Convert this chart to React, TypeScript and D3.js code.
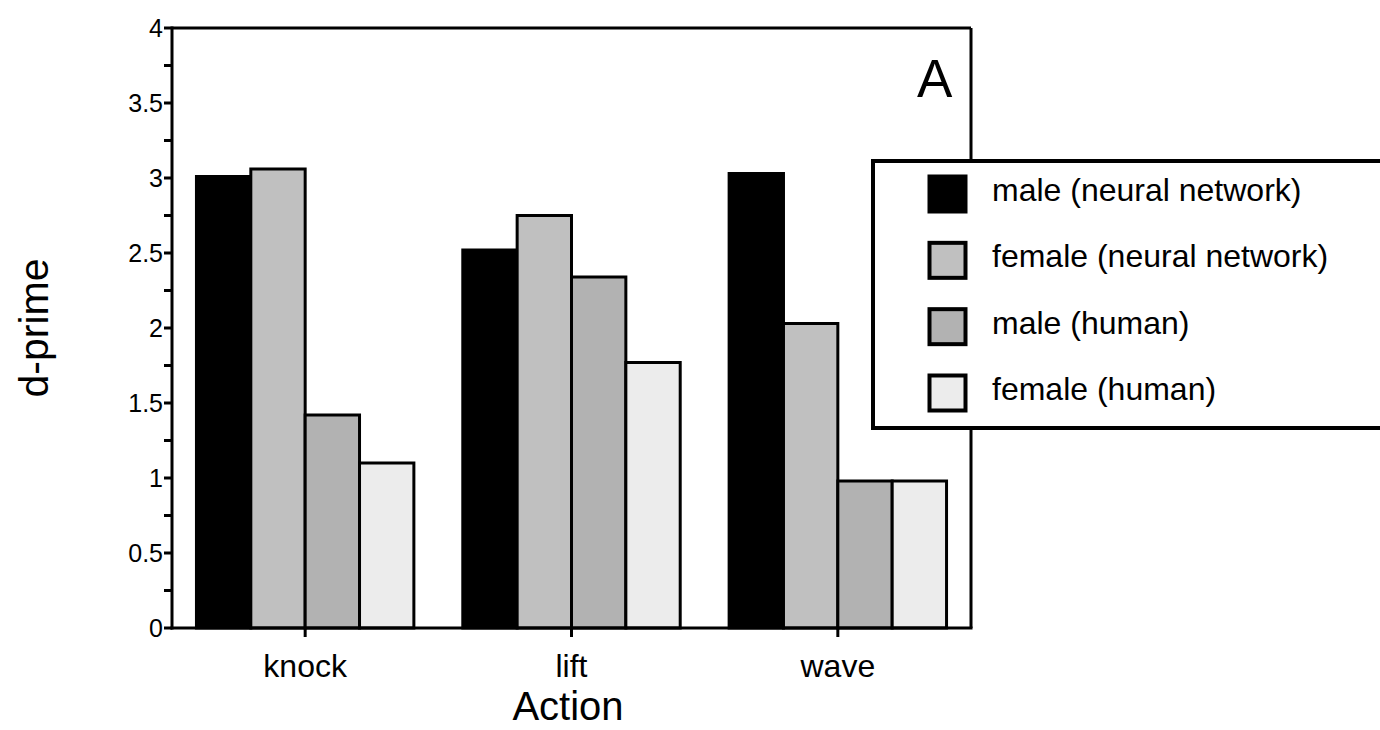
import React from "react";
import * as d3 from "d3";

const categories = ["knock", "lift", "wave"];
const seriesNames = [
  "male (neural network)",
  "female (neural network)",
  "male (human)",
  "female (human)",
];
const seriesColors = ["#000000", "#c0c0c0", "#b2b2b2", "#ececec"];
const maleNN = [3.01, 2.52, 3.03];
const femaleNN = [3.06, 2.75, 2.03];
const maleHuman = [1.42, 2.34, 0.98];
const femaleHuman = [1.1, 1.77, 0.98];
const yTickValues = [0, 0.5, 1, 1.5, 2, 2.5, 3, 3.5, 4];
const yTickLabels = ["0", "0.5", "1", "1.5", "2", "2.5", "3", "3.5", "4"];
const yMinorTicks = d3.range(0, 4.001, 0.25);

const seriesValues = [maleNN, femaleNN, maleHuman, femaleHuman];

export default function App() {
  const W = 1380;
  const H = 730;
  const left = 172;
  const right = 971;
  const top = 28;
  const bottom = 628;
  const font = "'Liberation Sans', Arial, sans-serif";

  const y = d3.scaleLinear().domain([0, 4]).range([bottom, top]);
  const x0 = d3.scaleBand<string>().domain(categories).range([left, right]).padding(0);
  const x1 = d3
    .scaleBand<number>()
    .domain(d3.range(seriesNames.length))
    .range([0, x0.bandwidth()])
    .paddingInner(0)
    .paddingOuter(0.45);

  const legendX = 873;
  const legendTop = 161;
  const legendBottom = 428;
  const legendRowY = d3
    .scalePoint<number>()
    .domain(d3.range(seriesNames.length))
    .range([194, 393]);

  return (
    <svg
      width={W}
      height={H}
      style={{ position: "absolute", left: 0, top: 0, background: "#fff" }}
      fontFamily={font}
    >
      <rect x={0} y={0} width={W} height={H} fill="#fff" />
      {/* bars */}
      {categories.map((c, ci) => (
        <g key={c} transform={`translate(${x0(c)},0)`}>
          {seriesValues.map((vals, si) => (
            <rect
              key={si}
              x={x1(si)!}
              y={y(vals[ci])}
              width={x1.bandwidth()}
              height={bottom - y(vals[ci])}
              fill={seriesColors[si]}
              stroke="#000"
              strokeWidth={3}
            />
          ))}
        </g>
      ))}
      {/* frame */}
      <line x1={left} x2={right} y1={top} y2={top} stroke="#000" strokeWidth={3} />
      <line x1={right} x2={right} y1={top} y2={bottom} stroke="#000" strokeWidth={3} />
      <line x1={left} x2={left} y1={top - 1.5} y2={bottom + 1.5} stroke="#000" strokeWidth={3} />
      <line x1={left - 1.5} x2={right + 1.5} y1={bottom} y2={bottom} stroke="#000" strokeWidth={3} />
      {/* y ticks */}
      {yMinorTicks.map((t) => (
        <line key={t} x1={left - 8} x2={left} y1={y(t)} y2={y(t)} stroke="#000" strokeWidth={3} />
      ))}
      {yTickValues.map((t, i) => (
        <text
          key={t}
          x={left - 9}
          y={y(t) + 9}
          textAnchor="end"
          fontSize={25}
          fill="#000"
        >
          {yTickLabels[i]}
        </text>
      ))}
      {/* x ticks */}
      {categories.map((c) => {
        const cx = x0(c)! + x0.bandwidth() / 2;
        return (
          <g key={c}>
            <line x1={cx} x2={cx} y1={bottom} y2={bottom + 9} stroke="#000" strokeWidth={3} />
            <text x={cx} y={677} textAnchor="middle" fontSize={32} fill="#000">
              {c}
            </text>
          </g>
        );
      })}
      {/* axis titles */}
      <text x={568} y={720} textAnchor="middle" fontSize={40} fill="#000">
        Action
      </text>
      <text
        transform={`translate(48,328) rotate(-90)`}
        textAnchor="middle"
        fontSize={41}
        fill="#000"
      >
        d-prime
      </text>
      <text x={917} y={97} fontSize={53} fill="#000">
        A
      </text>
      {/* legend */}
      <rect
        x={legendX}
        y={legendTop}
        width={W - legendX + 20}
        height={legendBottom - legendTop}
        fill="#fff"
        stroke="#000"
        strokeWidth={4}
      />
      {seriesNames.map((s, i) => {
        const cy = legendRowY(i)!;
        return (
          <g key={s}>
            <rect
              x={929.5}
              y={cy - 17.5}
              width={36}
              height={35}
              fill={seriesColors[i]}
              stroke="#000"
              strokeWidth={4}
            />
            <text x={992} y={cy + 7} fontSize={32} fill="#000">
              {s}
            </text>
          </g>
        );
      })}
    </svg>
  );
}
